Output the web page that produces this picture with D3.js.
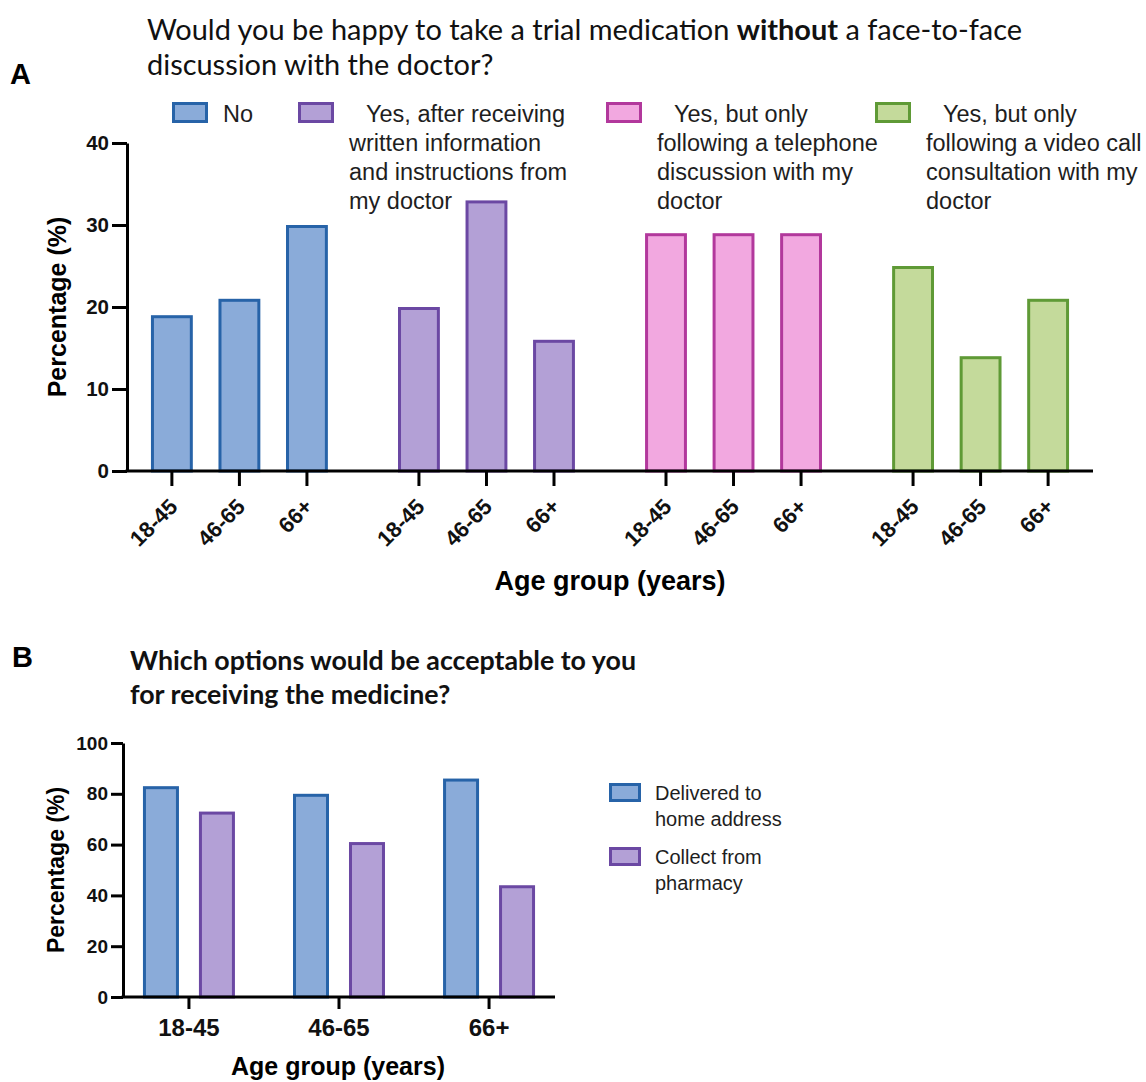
<!DOCTYPE html>
<html>
<head>
<meta charset="utf-8">
<script src="https://cdn.jsdelivr.net/npm/d3@7"></script>
<style>
  html, body { margin: 0; padding: 0; background: #fff; }
  svg { display: block; }
  .ax text { font-family: "Liberation Sans", Arial, sans-serif; font-weight: bold; fill: #111; }
  .ax path, .ax line { stroke: #000; stroke-width: 3; }
</style>
</head>
<body>
<svg id="chart" width="1146" height="1082"></svg>
<script>
// ---------- DATA ----------
const ageGroups = ["18-45", "46-65", "66+"];
const responseKeys = ["No", "Written", "Telephone", "Video"];
const responseLegend = [
  ["No"],
  ["Yes, after receiving", "written information", "and instructions from", "my doctor"],
  ["Yes, but only", "following a telephone", "discussion with my", "doctor"],
  ["Yes, but only", "following a video call", "consultation with my", "doctor"]
];
const noValues        = [19, 21, 30];
const writtenValues   = [20, 33, 16];
const telephoneValues = [29, 29, 29];
const videoValues     = [25, 14, 21];
const yTicksA = [0, 10, 20, 30, 40];

const deliverySeries = ["Delivered", "Collect"];
const deliveryLegend = [["Delivered to", "home address"], ["Collect from", "pharmacy"]];
const deliveredValues = [83, 80, 86];
const collectValues   = [73, 61, 44];
const yTicksB = [0, 20, 40, 60, 80, 100];

const titleA1 = "Would you be happy to take a trial medication ";
const titleA1b = "without";
const titleA1c = " a face-to-face";
const titleA2 = "discussion with the doctor?";
const titleB1 = "Which options would be acceptable to you";
const titleB2 = "for receiving the medicine?";
const yLabel = "Percentage (%)";
const xLabel = "Age group (years)";

// ---------- STYLE ----------
const fills   = { No: "#8aabd9", Written: "#b3a0d6", Telephone: "#f2a8e0", Video: "#c4da9b", Delivered: "#8aabd9", Collect: "#b3a0d6" };
const strokes = { No: "#2763a8", Written: "#6b48a3", Telephone: "#b2389c", Video: "#5f9a36", Delivered: "#2763a8", Collect: "#6b48a3" };
const SANS = '"Liberation Sans", Arial, sans-serif';
const CAL = 'Lato, "Open Sans", sans-serif';

const svg = d3.select("#chart");
const valuesA = { No: noValues, Written: writtenValues, Telephone: telephoneValues, Video: videoValues };

// squeeze a pair of title lines horizontally so that line 1 has the target width
function squeezePair(l1, l2, target) {
  const w1 = l1.node().getComputedTextLength();
  const w2 = l2.node().getComputedTextLength();
  const r = target / w1;
  l1.attr("textLength", target).attr("lengthAdjust", "spacingAndGlyphs");
  l2.attr("textLength", w2 * r).attr("lengthAdjust", "spacingAndGlyphs");
}

// ---------- PANEL A ----------
const A = { left: 127, right: 1093, top: 143, bottom: 471 };
const yA = d3.scaleLinear().domain([0, 40]).range([A.bottom, A.top]);
const xA = d3.scaleBand().domain(responseKeys).range([A.left, A.right]).paddingInner(0.18).paddingOuter(0.045);
const xAin = d3.scaleBand().domain(ageGroups).range([0, xA.bandwidth()]).paddingInner(0.38).paddingOuter(0.19);

const tA = svg.append("text").attr("x", 147).attr("y", 40).attr("font-family", CAL).attr("font-size", 28).attr("fill", "#111");
tA.append("tspan").text(titleA1);
tA.append("tspan").attr("font-weight", "bold").text(titleA1b);
tA.append("tspan").text(titleA1c);
const tA2 = svg.append("text").attr("x", 147).attr("y", 75).attr("font-family", CAL).attr("font-size", 28).attr("fill", "#111").text(titleA2);
squeezePair(tA, tA2, 875);
svg.append("text").attr("x", 10).attr("y", 84).attr("font-family", SANS).attr("font-weight", "bold").attr("font-size", 29).text("A");

// Legend A
const legX = [172, 298, 606, 875];
responseKeys.forEach((k, i) => {
  const g = svg.append("g");
  g.append("rect").attr("x", legX[i] + 1.5).attr("y", 103.5).attr("width", 33).attr("height", 18)
    .attr("fill", fills[k]).attr("stroke", strokes[k]).attr("stroke-width", 3);
  const lines = responseLegend[i];
  lines.forEach((ln, j) => {
    g.append("text").attr("x", legX[i] + 51 + (j === 0 && lines.length > 1 ? 17 : 0))
      .attr("y", 122 + j * 29).attr("font-family", SANS).attr("font-size", 23.5).attr("fill", "#1e1e1e").text(ln);
  });
});

// Bars A
responseKeys.forEach(k => {
  const g = svg.append("g").attr("transform", `translate(${xA(k)},0)`);
  g.selectAll("rect").data(valuesA[k]).join("rect")
    .attr("x", (d, i) => xAin(ageGroups[i]) + 1.5)
    .attr("width", xAin.bandwidth() - 3)
    .attr("y", d => yA(d) + 1.5)
    .attr("height", d => A.bottom - yA(d) - 1.5)
    .attr("fill", fills[k]).attr("stroke", strokes[k]).attr("stroke-width", 3);
});

// Axes A
const yAxA = svg.append("g").attr("class", "ax").attr("transform", `translate(${A.left},0)`)
  .call(d3.axisLeft(yA).tickValues(yTicksA).tickSize(15).tickPadding(3).tickSizeOuter(0));
yAxA.selectAll("text").attr("font-size", 20.5);
responseKeys.forEach(k => {
  const ax = svg.append("g").attr("class", "ax").attr("transform", `translate(${xA(k)},${A.bottom})`)
    .call(d3.axisBottom(xAin).tickSize(15).tickSizeOuter(0));
  ax.select(".domain").remove();
  ax.selectAll("text").attr("font-size", 22).attr("text-anchor", "end")
    .attr("dy", null).attr("y", null)
    .attr("transform", "translate(7,37) rotate(-45)");
});
svg.append("line").attr("x1", A.left - 1.5).attr("x2", A.right).attr("y1", A.bottom).attr("y2", A.bottom)
  .attr("stroke", "#000").attr("stroke-width", 3);

svg.append("text").attr("transform", `translate(66,${(A.top + A.bottom) / 2}) rotate(-90)`)
  .attr("text-anchor", "middle").attr("font-family", SANS).attr("font-weight", "bold").attr("font-size", 25).text(yLabel);
svg.append("text").attr("x", 610).attr("y", 590).attr("text-anchor", "middle")
  .attr("font-family", SANS).attr("font-weight", "bold").attr("font-size", 27).text(xLabel);

// ---------- PANEL B ----------
const B = { left: 123, right: 555, top: 743, bottom: 997 };
const valuesB = { Delivered: deliveredValues, Collect: collectValues };
const yB = d3.scaleLinear().domain([0, 100]).range([B.bottom, B.top]);
const xB = d3.scaleBand().domain(ageGroups).range([B.left, B.right]).paddingInner(0.387).paddingOuter(0.133);
const xBin = d3.scaleBand().domain(deliverySeries).range([0, xB.bandwidth()]).paddingInner(0.357).paddingOuter(0);

svg.append("text").attr("x", 12).attr("y", 667).attr("font-family", SANS).attr("font-weight", "bold").attr("font-size", 29).text("B");
const tB = svg.append("text").attr("x", 130).attr("y", 670).attr("font-family", CAL).attr("font-weight", "bold").attr("font-size", 26).attr("fill", "#111").text(titleB1);
const tB2 = svg.append("text").attr("x", 130).attr("y", 704).attr("font-family", CAL).attr("font-weight", "bold").attr("font-size", 26).attr("fill", "#111").text(titleB2);
squeezePair(tB, tB2, 506);

ageGroups.forEach((a, i) => {
  const g = svg.append("g").attr("transform", `translate(${xB(a)},0)`);
  g.selectAll("rect").data(deliverySeries).join("rect")
    .attr("x", s => xBin(s) + 1.5)
    .attr("width", xBin.bandwidth() - 3)
    .attr("y", s => yB(valuesB[s][i]) + 1.5)
    .attr("height", s => B.bottom - yB(valuesB[s][i]) - 1.5)
    .attr("fill", s => fills[s]).attr("stroke", s => strokes[s]).attr("stroke-width", 3);
});

const yAxB = svg.append("g").attr("class", "ax").attr("transform", `translate(${B.left},0)`)
  .call(d3.axisLeft(yB).tickValues(yTicksB).tickSize(12).tickPadding(3).tickSizeOuter(0));
yAxB.selectAll("text").attr("font-size", 19);
const xAxB = svg.append("g").attr("class", "ax").attr("transform", `translate(0,${B.bottom})`)
  .call(d3.axisBottom(xB).tickSize(12).tickPadding(10).tickSizeOuter(0));
xAxB.select(".domain").remove();
xAxB.selectAll("text").attr("font-size", 24);
svg.append("line").attr("x1", B.left - 1.5).attr("x2", B.right).attr("y1", B.bottom).attr("y2", B.bottom)
  .attr("stroke", "#000").attr("stroke-width", 3);

svg.append("text").attr("transform", `translate(64,${(B.top + B.bottom) / 2}) rotate(-90)`)
  .attr("text-anchor", "middle").attr("font-family", SANS).attr("font-weight", "bold").attr("font-size", 23).text(yLabel);
svg.append("text").attr("x", 338).attr("y", 1075).attr("text-anchor", "middle")
  .attr("font-family", SANS).attr("font-weight", "bold").attr("font-size", 25).text(xLabel);

// Legend B
deliverySeries.forEach((s, i) => {
  const y0 = 783 + i * 64;
  svg.append("rect").attr("x", 610.5).attr("y", y0 + 1.5).attr("width", 29).attr("height", 16)
    .attr("fill", fills[s]).attr("stroke", strokes[s]).attr("stroke-width", 3);
  deliveryLegend[i].forEach((ln, j) => {
    svg.append("text").attr("x", 655).attr("y", y0 + 17 + j * 26).attr("font-family", SANS)
      .attr("font-size", 20).attr("fill", "#1e1e1e").text(ln);
  });
});
</script>
</body>
</html>
